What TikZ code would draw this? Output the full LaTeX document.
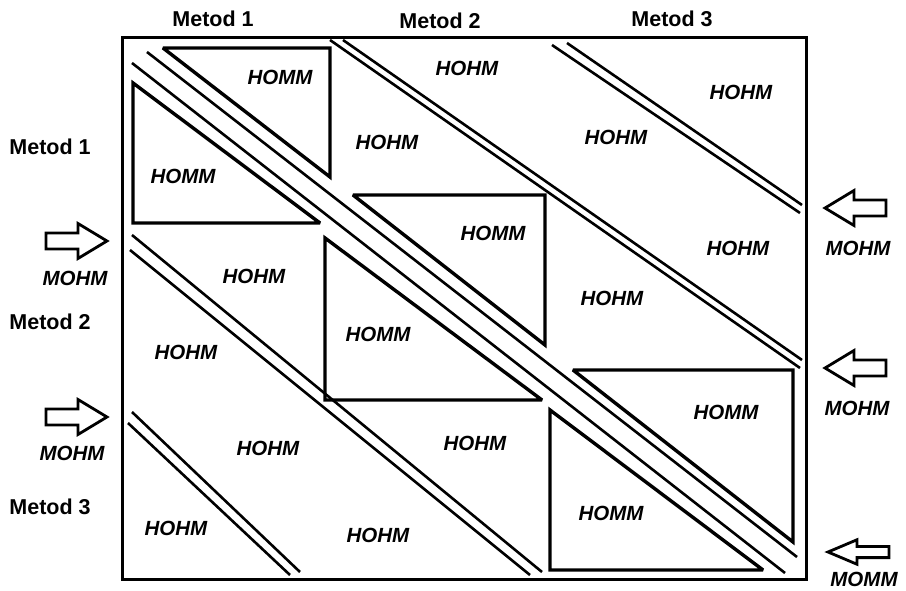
\documentclass[tikz,border=0pt]{standalone}
\usepackage{fontspec}
\setmainfont{Liberation Sans}
\begin{document}
\begin{tikzpicture}[x=1pt,y=-1pt,
  frame/.style={line width=3pt},
  tri/.style={line width=3.4pt, line join=miter, miter limit=3},
  rail/.style={line width=2.6pt},
  blockout/.style={line width=2.8pt, line join=miter},
  lab/.style={font=\fontsize{20.5}{24}\selectfont\bfseries\itshape, inner sep=0pt},
  head/.style={font=\fontsize{21.5}{25}\selectfont\bfseries, inner sep=0pt},
  blockarrow/.pic={\draw[blockout] (0,0) -- (-29,-17.5) -- (-29,-8) -- (-61,-8)
      -- (-61,8) -- (-29,8) -- (-29,17.5) -- cycle;}
]
\useasboundingbox (0,0) rectangle (906,591);

% outer frame of the matrix
\draw[frame] (122,38) rectangle (806,579);

% diagonal blocks: each split into two triangles
\draw[tri] (163,48) -- (330,48) -- (330,177) -- cycle;
\draw[tri] (133,83) -- (133,223) -- (320,223) -- cycle;
\draw[tri] (353,195) -- (545,195) -- (545,345) -- cycle;
\draw[tri] (325,238) -- (325,400) -- (542,400) -- cycle;
\draw[tri] (573,370) -- (793,370) -- (793,542) -- cycle;
\draw[tri] (550,410) -- (550,570) -- (763,570) -- cycle;

% double rails along the main diagonal
\draw[rail] (147,52) -- (797,557);
\draw[rail] (132,63) -- (785,573);

% double rails above the diagonal
\draw[rail] (343,40) -- (802,360);
\draw[rail] (330,40) -- (800,368);
\draw[rail] (567,43) -- (802,205);
\draw[rail] (552,45) -- (800,213);

% double rails below the diagonal
\draw[rail] (132,235) -- (542,572);
\draw[rail] (130,250) -- (530,575);
\draw[rail] (132,412) -- (300,572);
\draw[rail] (128,423) -- (290,575);

% column headings
\node[head] (c1) at (213,19) {Metod 1};
\node[head] (c2) at (440,21) {Metod 2};
\node[head] (c3) at (672,19) {Metod 3};

% row headings
\node[head] (r1) at (50,147) {Metod 1};
\node[head] (r2) at (50,322) {Metod 2};
\node[head] (r3) at (50,507) {Metod 3};

% labels inside the triangles
\node[lab] (m1u) at (280,77) {HOMM};
\node[lab] (m1l) at (183,176) {HOMM};
\node[lab] (m2u) at (493,233) {HOMM};
\node[lab] (m2l) at (378,334) {HOMM};
\node[lab] (m3u) at (726,412) {HOMM};
\node[lab] (m3l) at (611,513) {HOMM};

% labels between the rails
\node[lab] (h1) at (467,68) {HOHM};
\node[lab] (h2) at (387,142) {HOHM};
\node[lab] (h3) at (741,92) {HOHM};
\node[lab] (h4) at (616,137) {HOHM};
\node[lab] (h5) at (738,248) {HOHM};
\node[lab] (h6) at (612,298) {HOHM};
\node[lab] (h7) at (254,276) {HOHM};
\node[lab] (h8) at (186,352) {HOHM};
\node[lab] (h9) at (475,443) {HOHM};
\node[lab] (h10) at (268,448) {HOHM};
\node[lab] (h11) at (176,528) {HOHM};
\node[lab] (h12) at (378,535) {HOHM};

% inflow arrows on the left
\pic at (107,241) {blockarrow};
\pic at (107,417) {blockarrow};
\node[lab] (in1) at (75,278) {MOHM};
\node[lab] (in2) at (72,453) {MOHM};

% outflow arrows on the right
\pic[xscale=-1] at (825,208) {blockarrow};
\pic[xscale=-1] at (825,368) {blockarrow};
\pic[xscale=-1,yscale=0.7] at (828,552) {blockarrow};
\node[lab] (out1) at (858,248) {MOHM};
\node[lab] (out2) at (857,408) {MOHM};
\node[lab] (out3) at (864,579) {MOMM};
\end{tikzpicture}
\end{document}
